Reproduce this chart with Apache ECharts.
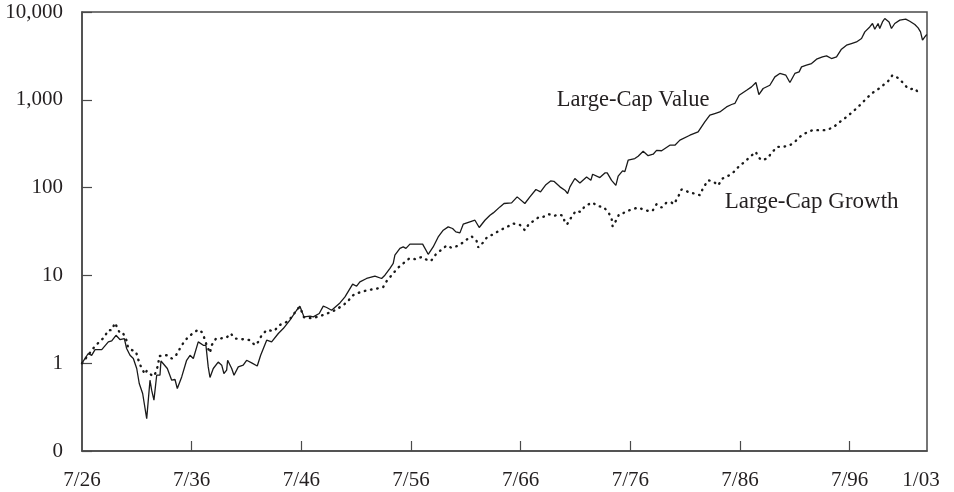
<!DOCTYPE html>
<html>
<head>
<meta charset="utf-8">
<script src="https://cdn.jsdelivr.net/npm/echarts@6/dist/echarts.min.js"></script>
<style>
html,body{margin:0;padding:0;background:#fff;}
#chart{width:954px;height:492px;}
</style>
</head>
<body>
<div id="chart"></div>
<script>
// X axis tick positions (decimal years) and their labels
var xLabelYears = [1926.5, 1936.5, 1946.5, 1956.5, 1966.5, 1976.5, 1986.5, 1996.5, 2003.0];
var xLabelTexts = ['7/26', '7/36', '7/46', '7/56', '7/66', '7/76', '7/86', '7/96', '1/03'];
var xTickYears = [1936.5, 1946.5, 1956.5, 1966.5, 1976.5, 1986.5, 1996.5];

// Large-Cap Value (growth of $1, log scale)
var valueYears = [1926.5,1927.07,1927.38,1927.69,1928.30,1928.90,1929.21,1929.60,1929.96,1930.36,
1930.57,1930.88,1931.18,1931.49,1931.72,1932.03,1932.40,1932.70,1932.85,1933.06,
1933.31,1933.61,1933.70,1934.28,1934.68,1934.98,1935.19,1935.59,1936.04,1936.35,
1936.65,1937.10,1937.56,1937.80,1938.01,1938.17,1938.47,1938.92,1939.24,1939.44,
1939.69,1939.78,1940.15,1940.36,1940.75,1941.20,1941.51,1941.97,1942.48,1942.79,
1943.34,1943.79,1944.40,1944.85,1945.46,1946.07,1946.37,1946.74,1947.29,1947.59,
1948.13,1948.50,1948.81,1949.26,1950.02,1950.48,1951.18,1951.54,1951.84,1952.45,
1953.21,1953.82,1954.12,1954.58,1954.88,1955.03,1955.49,1955.79,1956.04,1956.40,
1957.56,1958.07,1958.52,1958.98,1959.44,1959.89,1960.29,1960.59,1960.96,1961.26,
1961.87,1962.33,1962.72,1963.24,1963.70,1964.00,1964.61,1964.98,1965.67,1966.18,
1966.88,1967.34,1967.89,1968.31,1968.80,1969.23,1969.53,1970.08,1970.53,1970.78,
1970.99,1971.44,1971.90,1972.51,1972.90,1973.06,1973.72,1974.18,1974.39,1974.79,
1975.18,1975.39,1975.79,1976.00,1976.30,1976.91,1977.21,1977.67,1978.12,1978.58,
1978.89,1979.35,1980.10,1980.56,1981.02,1981.93,1982.68,1983.29,1983.75,1984.20,
1984.66,1985.27,1985.73,1986.03,1986.42,1987.10,1987.55,1987.95,1988.22,1988.61,
1989.22,1989.68,1990.13,1990.68,1991.05,1991.50,1991.89,1992.11,1992.56,1993.02,
1993.48,1994.02,1994.39,1994.84,1995.30,1995.75,1996.21,1996.66,1997.12,1997.58,
1997.88,1998.33,1998.58,1998.79,1999.09,1999.24,1999.49,1999.70,2000.09,2000.31,
2000.61,2001.07,2001.61,2001.98,2002.44,2002.74,2002.96,2003.14,2003.35,2003.53];
var valueVals = [1.0,1.29,1.23,1.43,1.43,1.75,1.80,2.08,1.86,1.91,
1.47,1.23,1.13,0.87,0.587,0.452,0.234,0.64,0.493,0.379,
0.73,0.73,1.06,0.87,0.64,0.652,0.515,0.698,1.08,1.23,
1.13,1.75,1.60,1.60,0.908,0.687,0.87,1.03,0.949,0.763,
0.833,1.08,0.87,0.73,0.908,0.949,1.08,1.01,0.93,1.23,
1.83,1.75,2.18,2.48,3.09,4.01,4.46,3.37,3.43,3.37,
3.68,4.46,4.31,4.01,4.86,5.69,7.94,7.53,8.43,9.22,
9.8,9.22,10.05,12.0,13.7,17.0,20.3,21.1,20.3,22.7,
22.7,17.4,21.1,27.4,32.7,35.7,34.2,31.3,30.5,38.3,
40.7,42.5,35.1,42.5,48.5,51.5,60.3,65.9,67,78.4,
65.9,78.4,95.1,89.3,108,119,118,102,93.4,85.7,
102,127,113,132,121,142,130,147,147,121,
106,135,155,152,205,214,228,260,231,240,
265,263,304,304,347,395,431,560,668,698,
728,830,884,908,1127,1285,1403,1574,1149,1345,
1466,1823,1995,1906,1574,1995,2080,2371,2477,2589,
2899,3083,3162,2953,3083,3767,4188,4375,4563,4989,
5932,6761,7396,6368,7396,6486,7709,8433,7709,6486,
7396,8072,8279,7854,7206,6592,5932,4775,5202,5546];

// Large-Cap Growth
var growthYears = [1926.5,1927.05,1927.59,1928.08,1928.51,1928.90,1929.21,1929.51,1929.90,1930.17,
1930.51,1930.67,1930.94,1931.42,1931.63,1931.88,1932.24,1932.40,1932.85,1933.06,
1933.24,1933.46,1933.52,1933.91,1934.28,1934.68,1935.07,1935.43,1935.80,1936.19,
1936.65,1937.10,1937.41,1937.62,1937.87,1938.17,1938.32,1938.72,1939.08,1939.69,
1940.06,1940.45,1941.06,1941.51,1941.82,1942.27,1942.57,1942.88,1943.34,1944.03,
1944.49,1945.16,1945.71,1946.07,1946.37,1946.74,1947.47,1948.20,1948.93,1949.57,
1950.17,1950.72,1951.09,1951.69,1952.30,1952.91,1953.42,1953.97,1954.33,1954.82,
1955.24,1955.79,1956.34,1956.95,1957.47,1957.86,1958.32,1958.77,1959.29,1959.75,
1960.20,1960.66,1961.11,1961.57,1962.02,1962.48,1962.63,1963.03,1963.45,1964.00,
1964.61,1965.27,1965.82,1966.43,1966.88,1967.28,1967.64,1968.19,1968.55,1969.07,
1969.53,1969.98,1970.38,1970.53,1970.74,1971.14,1971.53,1971.96,1972.35,1973.02,
1973.57,1974.02,1974.48,1974.79,1974.88,1975.18,1975.48,1975.79,1976.15,1976.61,
1977.21,1977.67,1978.12,1978.52,1978.89,1979.35,1979.80,1980.26,1980.47,1980.86,
1981.17,1981.47,1981.93,1982.38,1982.84,1983.14,1983.59,1984.05,1984.50,1984.91,
1985.51,1986.03,1986.48,1986.94,1987.30,1987.94,1988.15,1988.46,1988.97,1989.46,
1989.88,1990.43,1991.04,1991.50,1991.95,1992.41,1993.11,1993.78,1994.39,1995.05,
1995.60,1996.21,1996.76,1997.27,1997.72,1998.18,1998.63,1999.18,1999.55,2000.00,
2000.40,2000.91,2001.22,2001.68,2001.98,2002.44,2002.96];
var growthVals = [1.0,1.23,1.51,1.75,1.96,2.38,2.38,2.88,2.27,2.27,
1.91,1.56,1.43,1.35,1.10,0.908,0.75,0.817,0.73,0.711,
0.796,0.974,1.20,1.23,1.23,1.13,1.23,1.47,1.75,1.99,
2.21,2.42,2.27,1.99,1.60,1.31,1.60,1.91,1.91,1.96,
2.18,1.91,1.88,1.86,1.83,1.60,1.75,2.08,2.38,2.33,
2.71,2.95,3.43,4.09,4.35,3.34,3.25,3.43,3.71,4.01,
4.46,4.99,5.84,6.32,6.66,6.91,7.09,7.39,8.82,10.3,
12.0,13.7,15.6,15.3,16.2,15.2,14.6,17.4,19.7,21.9,
20.6,21.5,23.1,25.6,27.9,24.7,20.8,23.4,27.4,29.4,
32.7,35.7,39.0,37.6,32.7,39.0,41.4,46.4,46.4,49.8,
47.6,49.4,47.6,39.6,38.3,46.4,54.3,52.9,61.4,67.6,
61.4,60.3,52.9,44.5,36.3,41.8,49.8,50.7,53.8,56.3,
59.3,56.3,54.3,54.3,64.7,59.3,67.6,67.6,64.7,78.4,
95.1,93.4,87.1,85.7,81.9,99.2,121,118,106,127,
138,154,180,196,218,255,224,205,214,255,
291,291,304,332,378,413,451,451,451,491,
560,638,728,830,946,1079,1211,1345,1466,1629,
1906,1774,1629,1403,1320,1345,1127];

var seriesNames = ['Large-Cap Value', 'Large-Cap Growth'];

function pairs(xs, ys) {
  var out = [];
  for (var i = 0; i < xs.length; i++) out.push([xs[i], ys[i]]);
  return out;
}

var FONT = 'Liberation Serif';
var TXT = '#231f20';
var AX = '#4a4a4a';

var chart = echarts.init(document.getElementById('chart'), null, {renderer: 'canvas'});
chart.setOption({
  animation: false,
  backgroundColor: '#ffffff',
  grid: {
    left: 82, right: 27, top: 12, bottom: 41,
    show: true, borderColor: AX, borderWidth: 1.5, backgroundColor: 'transparent'
  },
  xAxis: {
    type: 'value',
    min: 1926.5,
    max: 2003.55,
    splitLine: {show: false},
    axisLine: {show: true, lineStyle: {color: AX, width: 1.5}},
    axisTick: {show: true, inside: true, length: 10, customValues: xTickYears, lineStyle: {color: AX, width: 1.2}},
    axisLabel: {
      customValues: xLabelYears,
      margin: 19,
      color: TXT,
      fontFamily: FONT,
      fontSize: 21,
      formatter: function (v) {
        for (var i = 0; i < xLabelYears.length; i++) {
          if (Math.abs(xLabelYears[i] - v) < 0.01) return xLabelTexts[i];
        }
        return '';
      }
    }
  },
  yAxis: {
    type: 'log',
    logBase: 10,
    min: 0.1,
    max: 10000,
    splitLine: {show: false},
    axisLine: {show: true, lineStyle: {color: AX, width: 1.5}},
    axisTick: {show: true, inside: true, length: 10, lineStyle: {color: AX, width: 1.2}},
    minorTick: {show: false},
    axisLabel: {
      margin: 19,
      color: TXT,
      fontFamily: FONT,
      fontSize: 21,
      formatter: function (v) {
        if (v < 0.5) return '0';
        return Math.round(v).toString().replace(/\B(?=(\d{3})+(?!\d))/g, ',');
      }
    }
  },
  series: [
    {
      name: seriesNames[0],
      type: 'line',
      data: pairs(valueYears, valueVals),
      showSymbol: false,
      symbol: 'none',
      lineStyle: {color: '#1a1a1a', width: 1.3},
      z: 3,
      markPoint: {
        symbol: 'circle',
        symbolSize: 0,
        itemStyle: {color: 'rgba(0,0,0,0)'},
        data: [{coord: [1969.8, 990], value: seriesNames[0]}],
        label: {
          show: true, position: 'right', distance: 0,
          formatter: seriesNames[0],
          color: TXT, fontFamily: FONT, fontSize: 22.5
        }
      }
    },
    {
      name: seriesNames[1],
      type: 'line',
      data: pairs(growthYears, growthVals),
      showSymbol: false,
      symbol: 'none',
      lineStyle: {color: '#1a1a1a', width: 2.4, type: [0.5, 5.8], cap: 'round'},
      z: 2,
      markPoint: {
        symbol: 'circle',
        symbolSize: 0,
        itemStyle: {color: 'rgba(0,0,0,0)'},
        data: [{coord: [1985.1, 68], value: seriesNames[1]}],
        label: {
          show: true, position: 'right', distance: 0,
          formatter: seriesNames[1],
          color: TXT, fontFamily: FONT, fontSize: 23
        }
      }
    }
  ]
});
</script>
</body>
</html>
